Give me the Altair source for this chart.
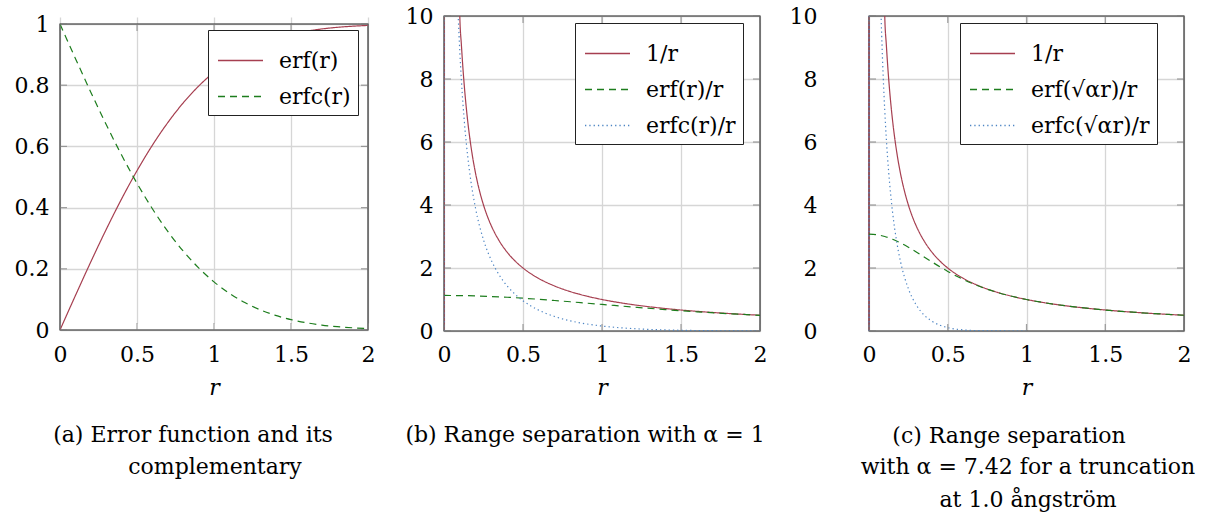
import altair as alt
import pandas as pd

FONT = "DejaVu Serif"
RED = "#a63f50"
GREEN = "#1d7d1d"
BLUE = "#4d85c4"
FRAME = "#222222"
TICK = "#7a7a7a"

X_TICKS = [0, 0.5, 1, 1.5, 2]

# (a) error function and its complement
A_R = [0.0, 0.1, 0.2, 0.3, 0.4, 0.5, 0.6, 0.7, 0.8, 0.9, 1.0,
       1.1, 1.2, 1.3, 1.4, 1.5, 1.6, 1.7, 1.8, 1.9, 2.0]
A_ERF = [0.0, 0.1125, 0.2227, 0.3286, 0.4284, 0.5205, 0.6039, 0.6778, 0.7421, 0.7969, 0.8427,
         0.8802, 0.9103, 0.9340, 0.9523, 0.9661, 0.9763, 0.9838, 0.9891, 0.9928, 0.9953]
A_ERFC = [1.0, 0.8875, 0.7773, 0.6714, 0.5716, 0.4795, 0.3961, 0.3222, 0.2579, 0.2031, 0.1573,
          0.1198, 0.0897, 0.0660, 0.0477, 0.0339, 0.0237, 0.0162, 0.0109, 0.0072, 0.0047]
A_SERIES = ["erf(r)", "erfc(r)"]
A_YTICKS = [0, 0.2, 0.4, 0.6, 0.8, 1]

# Coulomb 1/r (shared by (b) and (c)); the first two samples trace the r -> 0 asymptote
INV_R = [0.0, 0.0001, 0.1, 0.11, 0.12, 0.13, 0.14, 0.15, 0.16, 0.18, 0.2, 0.22, 0.25, 0.28, 0.3,
         0.35, 0.4, 0.45, 0.5, 0.6, 0.7, 0.8, 0.9, 1.0, 1.2, 1.4, 1.6, 1.8, 2.0]
INV = [0.0, 10000.0, 10.0, 9.091, 8.333, 7.692, 7.143, 6.667, 6.25, 5.556, 5.0, 4.545, 4.0, 3.571, 3.333,
       2.857, 2.5, 2.222, 2.0, 1.667, 1.429, 1.25, 1.111, 1.0, 0.833, 0.714, 0.625, 0.556, 0.5]

# (b) alpha = 1
B_ERF_R = [0.0, 0.1, 0.2, 0.3, 0.4, 0.5, 0.6, 0.7, 0.8, 0.9, 1.0, 1.2, 1.4, 1.6, 1.8, 2.0]
B_ERF = [1.128, 1.125, 1.114, 1.095, 1.071, 1.041, 1.007, 0.968, 0.928, 0.885, 0.843,
         0.759, 0.680, 0.610, 0.550, 0.498]
B_ERFC_R = [0.0, 0.0001, 0.08, 0.09, 0.1, 0.11, 0.12, 0.13, 0.15, 0.17, 0.2, 0.25, 0.3, 0.35,
            0.4, 0.45, 0.5, 0.6, 0.7, 0.8, 0.9, 1.0, 1.2, 1.4, 1.6, 1.8, 2.0]
B_ERFC = [0.0, 10000.0, 11.374, 9.986, 8.875, 7.967, 7.210, 6.570, 5.547, 4.765, 3.886, 2.895, 2.238,
          1.773, 1.429, 1.166, 0.959, 0.660, 0.460, 0.322, 0.226, 0.157, 0.0748, 0.0341, 0.0148,
          0.0061, 0.0023]
B_SERIES = ["1/r", "erf(r)/r", "erfc(r)/r"]

# (c) alpha = 7.42
C_ERF_R = [0.0, 0.05, 0.1, 0.15, 0.2, 0.25, 0.3, 0.35, 0.4, 0.45, 0.5, 0.6, 0.7, 0.8, 0.9, 1.0,
           1.2, 1.4, 1.6, 1.8, 2.0]
C_ERF = [3.074, 3.055, 2.999, 2.911, 2.795, 2.658, 2.507, 2.350, 2.192, 2.038, 1.892, 1.633, 1.419,
         1.247, 1.111, 1.000, 0.833, 0.714, 0.625, 0.556, 0.500]
C_ERFC_R = [0.0, 0.0001, 0.07, 0.075, 0.08, 0.09, 0.1, 0.11, 0.125, 0.15, 0.175, 0.2, 0.25, 0.3,
            0.35, 0.4, 0.45, 0.5, 0.6, 0.7, 0.8, 0.9, 1.0]
C_ERFC = [0.0, 10000.0, 11.248, 10.30, 9.474, 8.098, 7.001, 6.107, 5.041, 3.756, 2.858, 2.205, 1.342,
          0.826, 0.507, 0.308, 0.185, 0.108, 0.0339, 0.0100, 0.0027, 0.0006, 0.0001]
C_SERIES = ["1/r", "erf(√αr)/r", "erfc(√αr)/r"]

Y_TICKS_BC = [0, 2, 4, 6, 8, 10]

A_CAPTION = ["(a) Error function and its", "complementary"]
B_CAPTION = ["(b) Range separation with α = 1"]
C_CAPTION = ["(c) Range separation", "with α = 7.42 for a truncation", "at 1.0 ångström"]

SOLID = [1, 0]
DASHED = [7, 5]
DOTTED = [1.3, 3]


def panel(curves, series, colours, dashes, y_max, y_ticks, x_range, y_range, legend_at, captions):
    df = pd.concat(
        [pd.DataFrame({"r": rs, "v": vs, "series": name}) for (rs, vs), name in zip(curves, series)],
        ignore_index=True,
    )
    x_scale = alt.Scale(domain=[0, 2], range=x_range, nice=False, zero=False)
    y_scale = alt.Scale(domain=[0, y_max], range=y_range, nice=False, zero=False)

    x_axis = alt.Axis(values=X_TICKS, labelExpr="datum.value + ''", title="r", grid=True,
                      domain=False, ticks=False, labelPadding=13, titlePadding=12,
                      titleFontStyle="italic", labelFlush=False, labelOverlap=False)
    y_axis = alt.Axis(values=y_ticks, labelExpr="datum.value + ''", title=None, grid=True,
                      domain=False, ticks=False, labelPadding=11, labelFlush=False, labelOverlap=False)
    legend = alt.Legend(title=None, orient="none", legendX=legend_at[0], legendY=legend_at[1],
                        direction="vertical", symbolType="stroke", symbolSize=2025,
                        symbolStrokeWidth=1.3, labelFont=FONT, labelFontSize=22, labelColor="black",
                        padding=7, rowPadding=1, labelOffset=15, symbolOffset=2, fillColor="white",
                        strokeColor=FRAME, labelLimit=400)

    frame = alt.Chart(pd.DataFrame({"k": [0]})).mark_rect(
        fill="transparent", stroke=FRAME, strokeWidth=1.1
    ).encode(x=alt.datum(0, scale=x_scale), x2=alt.datum(2), y=alt.datum(0, scale=y_scale), y2=alt.datum(y_max))

    lines = alt.Chart(df).mark_line(clip=True, interpolate="monotone", strokeWidth=1.2).encode(
        x=alt.X("r:Q", scale=x_scale, axis=x_axis),
        y=alt.Y("v:Q", scale=y_scale, axis=y_axis),
        color=alt.Color("series:N", scale=alt.Scale(domain=series, range=colours), legend=legend),
        strokeDash=alt.StrokeDash("series:N", scale=alt.Scale(domain=series, range=dashes), legend=legend),
    )

    xt = pd.DataFrame({"r": X_TICKS})
    yt = pd.DataFrame({"v": y_ticks})
    tick_style = dict(size=7, thickness=1.2, color=TICK)
    bottom = alt.Chart(xt).mark_tick(orient="vertical", yOffset=-3.5, **tick_style).encode(
        x="r:Q", y=alt.datum(0))
    top = alt.Chart(xt).mark_tick(orient="vertical", yOffset=3.5, **tick_style).encode(
        x="r:Q", y=alt.datum(y_max))
    left = alt.Chart(yt).mark_tick(orient="horizontal", xOffset=3.5, **tick_style).encode(
        y="v:Q", x=alt.datum(0))
    right = alt.Chart(yt).mark_tick(orient="horizontal", xOffset=-3.5, **tick_style).encode(
        y="v:Q", x=alt.datum(2))

    caps = [
        alt.Chart(pd.DataFrame({"t": [text]})).mark_text(
            font=FONT, fontSize=22, align="center", baseline="alphabetic", color="black"
        ).encode(x=alt.value(cx), y=alt.value(cy), text="t:N")
        for text, cx, cy in captions
    ]

    return alt.layer(frame, lines, bottom, top, left, right, *caps).properties(width=356, height=315)


pa = panel(
    [(A_R, A_ERF), (A_R, A_ERFC)], A_SERIES, [RED, GREEN], [SOLID, DASHED],
    1, A_YTICKS, [0, 308], [314, 8], (148, 14),
    [(A_CAPTION[0], 133, 426), (A_CAPTION[1], 155, 458)],
)
pb = panel(
    [(INV_R, INV), (B_ERF_R, B_ERF), (B_ERFC_R, B_ERFC)], B_SERIES, [RED, GREEN, BLUE],
    [SOLID, DASHED, DOTTED], 10, Y_TICKS_BC, [0, 316], [315, 0], (131, 7),
    [(B_CAPTION[0], 141, 426)],
)
pc = panel(
    [(INV_R, INV), (C_ERF_R, C_ERF), (C_ERFC_R, C_ERFC)], C_SERIES, [RED, GREEN, BLUE],
    [SOLID, DASHED, DOTTED], 10, Y_TICKS_BC, [41, 356], [315, 0], (132, 7),
    [(C_CAPTION[0], 181, 427), (C_CAPTION[1], 200, 458), (C_CAPTION[2], 200, 491)],
)

chart = (
    alt.hconcat(pa, pb, pc, spacing=28, bounds="flush")
    .resolve_scale(x="independent", y="independent", color="independent", strokeDash="independent")
    .resolve_legend(color="independent", strokeDash="independent")
    .properties(padding={"left": 13, "top": 4, "right": 5, "bottom": 5}, background="white")
    .configure(font=FONT)
    .configure_view(stroke="transparent")
    .configure_axis(labelFont=FONT, labelFontSize=22, labelColor="black", gridColor="#d6d6d6",
                    gridWidth=1.3, titleFont=FONT, titleFontSize=22, titleFontWeight="normal",
                    titleColor="black")
)

chart.save("out.html", embed_options={"renderer": "svg", "actions": False})
